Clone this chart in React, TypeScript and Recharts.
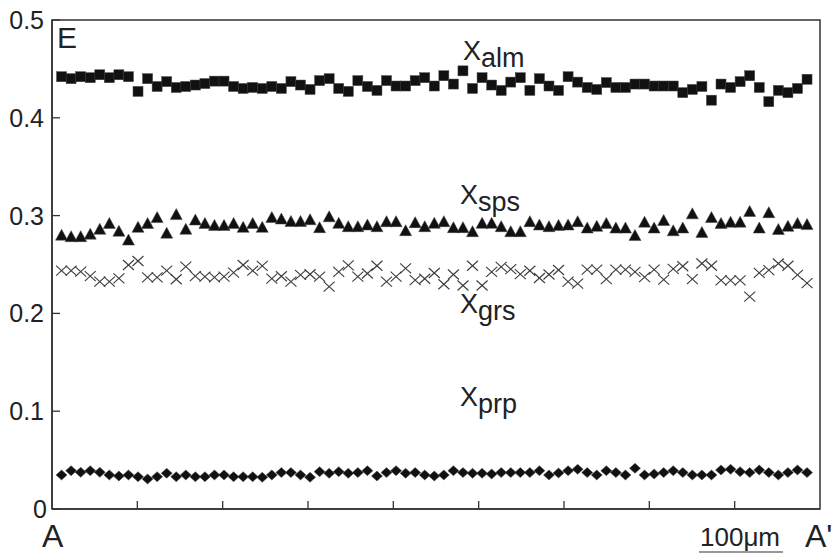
import React from 'react';
import { ScatterChart, Scatter, XAxis, YAxis, ReferenceArea } from 'recharts';

// Sample spacing along the profile A–A' (μm)
const STEP_UM = 11.2;
const X_TICKS = [100, 200, 300, 400, 500, 600, 700, 800];
const Y_TICKS = [0, 0.1, 0.2, 0.3, 0.4, 0.5];
const Y_TICK_LABELS = ['0', '0.1', '0.2', '0.3', '0.4', '0.5'];

const alm = [
  0.442, 0.44, 0.442, 0.441, 0.444, 0.441, 0.444, 0.442, 0.427, 0.44, 0.432, 0.437, 0.431, 0.432, 0.4335, 0.435,
  0.4375, 0.4375, 0.432, 0.43, 0.431, 0.43, 0.432, 0.43, 0.437, 0.4335, 0.429, 0.438,
  0.44, 0.43, 0.427, 0.438, 0.432, 0.428, 0.438, 0.4325, 0.4325, 0.438, 0.441, 0.4325, 0.443, 0.4345, 0.448, 0.43,
  0.441, 0.4335, 0.428, 0.4365, 0.441, 0.428, 0.44, 0.4325, 0.428,
  0.442, 0.4365, 0.431, 0.429, 0.436, 0.431, 0.431, 0.4345, 0.4345, 0.4325, 0.4325, 0.4325, 0.4257, 0.429, 0.432,
  0.418, 0.4345, 0.431, 0.437, 0.443, 0.431, 0.4165, 0.428, 0.4257, 0.43, 0.4394,
];

const sps = [
  0.28, 0.2785, 0.2785, 0.281, 0.286, 0.292, 0.284, 0.275, 0.288, 0.292, 0.298, 0.282, 0.301, 0.286, 0.2955, 0.292,
  0.29, 0.29, 0.292, 0.288, 0.292, 0.288, 0.298, 0.2965, 0.294, 0.294, 0.2958, 0.2877, 0.2988,
  0.2921, 0.2887, 0.2887, 0.2904, 0.2887, 0.2938, 0.2938, 0.2846, 0.2928, 0.2887, 0.2921, 0.2938, 0.2877, 0.2877,
  0.2836, 0.2921, 0.2921, 0.2887, 0.2836, 0.2836, 0.2938, 0.2904, 0.2887, 0.29,
  0.2904, 0.2938, 0.2873, 0.289, 0.292, 0.2873, 0.2873, 0.2796, 0.2933, 0.2873, 0.295, 0.2845, 0.2873, 0.3018,
  0.2828, 0.298, 0.292, 0.2933, 0.2933, 0.3043, 0.2873, 0.303, 0.2858, 0.289, 0.292, 0.2908,
];

const grs = [
  0.2437, 0.2437, 0.2427, 0.2382, 0.2324, 0.2324, 0.2359, 0.2495, 0.2536, 0.2369, 0.2369, 0.2437, 0.2349, 0.2478,
  0.2382, 0.2376, 0.2369, 0.2376, 0.2416, 0.2495, 0.2437, 0.2485, 0.2355,
  0.238, 0.2324, 0.2393, 0.24, 0.2376, 0.2273, 0.2425, 0.2492, 0.2376, 0.2408, 0.2487, 0.2325, 0.2376, 0.2461,
  0.234, 0.2354, 0.2413, 0.2298, 0.2398, 0.2285, 0.2487, 0.2285, 0.2424, 0.2475, 0.2452, 0.2402, 0.2436, 0.2362,
  0.2398, 0.2444,
  0.2325, 0.2304, 0.2448, 0.2448, 0.235, 0.2448, 0.2448, 0.2425, 0.237, 0.2448, 0.2345, 0.2456, 0.2482, 0.235,
  0.251, 0.2487, 0.2337, 0.2337, 0.2337, 0.2171, 0.2414, 0.2442, 0.251, 0.2487, 0.2393, 0.231,
];

const prp = [
  0.0348, 0.0392, 0.0375, 0.0392, 0.0375, 0.0348, 0.0337, 0.0348, 0.033, 0.0307, 0.033, 0.0365, 0.033, 0.0348,
  0.033, 0.033, 0.0348, 0.0348, 0.033, 0.033, 0.033, 0.0324, 0.0348,
  0.0372, 0.0372, 0.0348, 0.0324, 0.0382, 0.0365, 0.0382, 0.0365, 0.0372, 0.0392, 0.0337, 0.0372, 0.0392, 0.0365,
  0.0372, 0.0348, 0.0337, 0.0348, 0.0392, 0.0372, 0.0365, 0.0365, 0.0358, 0.0372, 0.0372, 0.0372, 0.0372, 0.0392,
  0.0348, 0.0368,
  0.0392, 0.0406, 0.0372, 0.0348, 0.0392, 0.0372, 0.0348, 0.0416, 0.0348, 0.0358, 0.0372, 0.0392, 0.0372, 0.0348,
  0.0348, 0.0348, 0.0399, 0.0406, 0.0382, 0.0372, 0.0399, 0.0372, 0.0348, 0.0372, 0.0399, 0.0372,
];

const toPoints = (vals: number[]) => vals.map((v, i) => ({ x: (i + 1) * STEP_UM, y: v }));

const FONT = '"Liberation Sans", Arial, Helvetica, sans-serif';
const INK = '#111';
const AXIS = '#333';

const SquareShape = (p: any) => (
  <rect x={p.cx - 5} y={p.cy - 5} width={10} height={10} fill={INK} stroke="#444" strokeWidth={0.5} />
);
const TriangleShape = (p: any) => (
  <path
    d={`M${p.cx},${p.cy - 6}L${p.cx + 6},${p.cy + 5}L${p.cx - 6},${p.cy + 5}Z`}
    fill={INK}
    stroke="#444"
    strokeWidth={0.5}
  />
);
const CrossShape = (p: any) => (
  <g stroke="#3a3a3a" strokeWidth={1.1}>
    <line x1={p.cx - 5.5} y1={p.cy - 5} x2={p.cx + 5.5} y2={p.cy + 5} />
    <line x1={p.cx - 5.5} y1={p.cy + 5} x2={p.cx + 5.5} y2={p.cy - 5} />
  </g>
);
const DiamondShape = (p: any) => (
  <path
    d={`M${p.cx},${p.cy - 5}L${p.cx + 5.5},${p.cy}L${p.cx},${p.cy + 5}L${p.cx - 5.5},${p.cy}Z`}
    fill={INK}
    stroke="#444"
    strokeWidth={0.5}
  />
);

const YTick = (p: any) => {
  const v = p.payload.value;
  const idx = Y_TICKS.indexOf(v);
  const label = idx >= 0 ? Y_TICK_LABELS[idx] : String(v);
  return (
    <g>
      <line x1={p.x} y1={p.y} x2={p.x + 8} y2={p.y} stroke={AXIS} strokeWidth={1.3} />
      <text
        x={v === 0 ? 47 : 44}
        y={p.y}
        textAnchor="end"
        dominantBaseline="central"
        fontFamily={FONT}
        fontSize={25}
        fill="#222"
      >
        {label}
      </text>
    </g>
  );
};

const XTick = (p: any) => (
  <line x1={p.x} y1={p.y} x2={p.x} y2={p.y - 8} stroke={AXIS} strokeWidth={1.3} />
);

const Label = ({ x, y, main, sub }: { x: number; y: number; main: string; sub: string }) => (
  <text x={x} y={y} fontFamily={FONT} fontSize={27} fill="#222">
    <tspan>{main}</tspan>
    <tspan dy={7}>{sub}</tspan>
  </text>
);

export default function App() {
  return (
    <div style={{ position: 'absolute', left: 0, top: 0, width: 836, height: 555, background: '#fff' }}>
      <ScatterChart width={836} height={555} margin={{ top: 20, right: 16, bottom: 0, left: 0 }}>
        <XAxis
          type="number"
          dataKey="x"
          domain={[0, 900]}
          ticks={X_TICKS}
          height={46}
          tickSize={0}
          tickMargin={0}
          tickLine={false}
          axisLine={{ stroke: AXIS, strokeWidth: 1.5 }}
          tick={<XTick />}
          allowDataOverflow
        />
        <YAxis
          type="number"
          dataKey="y"
          domain={[0, 0.5]}
          ticks={Y_TICKS}
          width={52}
          tickSize={0}
          tickMargin={0}
          tickLine={false}
          axisLine={{ stroke: AXIS, strokeWidth: 1.5 }}
          tick={<YTick />}
          allowDataOverflow
        />
        <ReferenceArea x1={0} x2={900} y1={0} y2={0.5} fill="none" stroke={AXIS} strokeWidth={1.5} fillOpacity={0} />
        <Scatter data={toPoints(alm)} shape={SquareShape} isAnimationActive={false} />
        <Scatter data={toPoints(sps)} shape={TriangleShape} isAnimationActive={false} />
        <Scatter data={toPoints(grs)} shape={CrossShape} isAnimationActive={false} />
        <Scatter data={toPoints(prp)} shape={DiamondShape} isAnimationActive={false} />
      </ScatterChart>
      <svg
        width={836}
        height={555}
        style={{ position: 'absolute', left: 0, top: 0, pointerEvents: 'none' }}
      >
        <text x={57} y={48} fontFamily={FONT} fontSize={30} fill="#222">E</text>
        <Label x={463} y={60} main="X" sub="alm" />
        <Label x={460} y={204} main="X" sub="sps" />
        <Label x={460} y={313} main="X" sub="grs" />
        <Label x={460} y={406} main="X" sub="prp" />
        <text x={42} y={547} fontFamily={FONT} fontSize={32} fill="#222">A</text>
        <text x={805} y={547} fontFamily={FONT} fontSize={32} fill="#222">A'</text>
        <text x={700} y={546} fontFamily={FONT} fontSize={26} fill="#222">100μm</text>
        <line x1={699} y1={552} x2={783} y2={552} stroke="#333" strokeWidth={1.2} />
      </svg>
    </div>
  );
}
